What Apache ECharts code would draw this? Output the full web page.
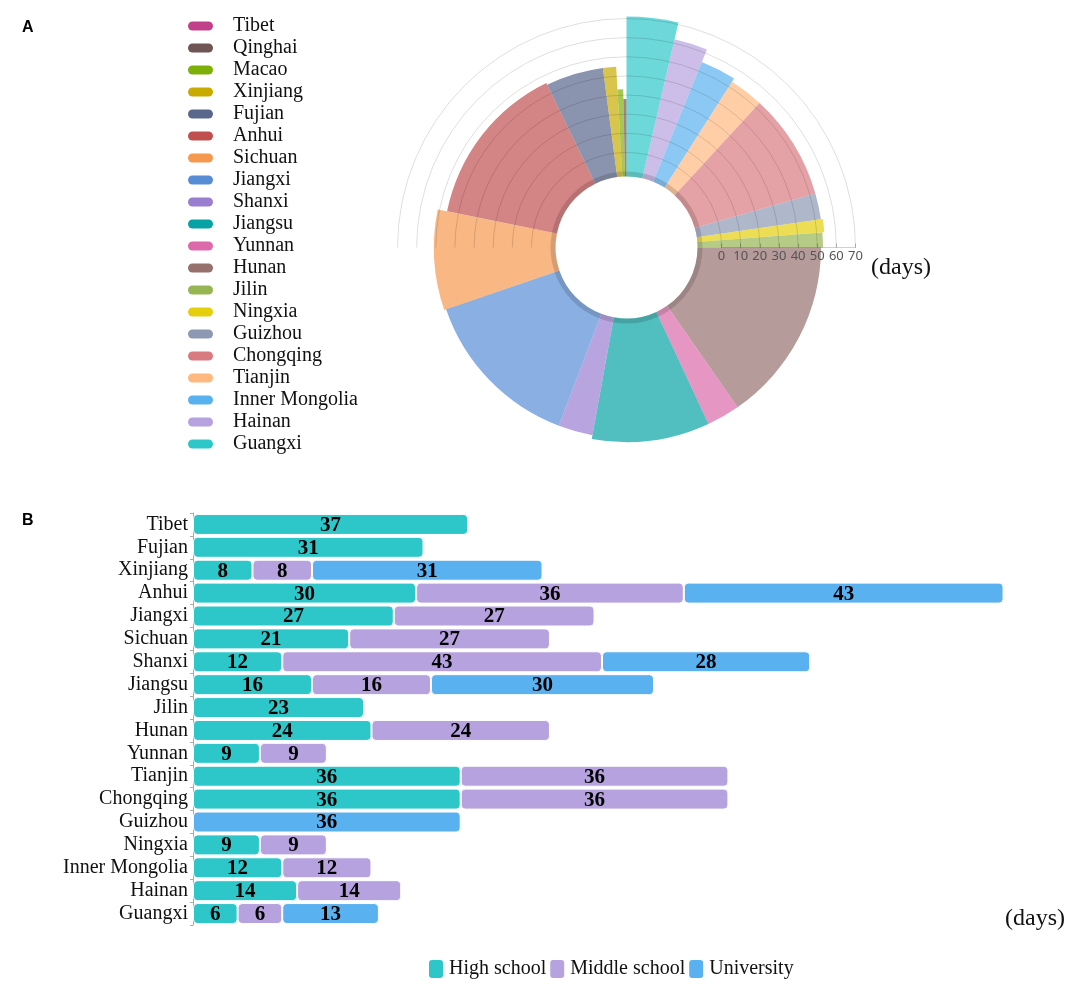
<!DOCTYPE html>
<html>
<head>
<meta charset="utf-8">
<title>School closure days by province</title>
<script src="https://cdn.jsdelivr.net/npm/echarts@6/dist/echarts.min.js"></script>
<style>
  html, body { margin: 0; padding: 0; background: #fff; }
  #main { width: 1084px; height: 996px; }
</style>
</head>
<body>
<div id="main"></div>
<script>
// ---- panel A: rose chart ----
var provinces = ["Guangxi", "Hainan", "Inner Mongolia", "Tianjin", "Chongqing", "Guizhou", "Ningxia", "Jilin",
  "Hunan", "Yunnan", "Jiangsu", "Shanxi", "Jiangxi", "Sichuan", "Anhui", "Fujian", "Xinjiang", "Macao", "Qinghai", "Tibet"];
// share of the circle (%), read from the sector widths
var shareValues = [3.61, 2.53, 2.89, 2.81, 8.72, 2.14, 1.08, 1.22, 15.33, 2.75, 9.78, 2.92, 13.97, 8.42, 14.61, 5.14, 1.17, 0.58, 0.33, 0];
// radial length in days
var roseDays = [71, 62, 55, 53, 53, 53, 54, 53, 52, 52, 52, 50, 50, 51, 46, 45, 45, 33, 28, 0];
var roseColors = ["#2ec7c9", "#b6a2de", "#5ab1ef", "#ffb980", "#d87a80", "#8d98b3", "#e5cf0d", "#97b552",
  "#95706d", "#dc69aa", "#07a2a4", "#9a7fd1", "#588dd5", "#f5994e", "#c05050", "#59678c", "#c9ab00", "#7eb00a", "#6f5553", "#c14089"];

// ---- panel B: stacked bars ----
var regions = ["Tibet", "Fujian", "Xinjiang", "Anhui", "Jiangxi", "Sichuan", "Shanxi", "Jiangsu", "Jilin",
  "Hunan", "Yunnan", "Tianjin", "Chongqing", "Guizhou", "Ningxia", "Inner Mongolia", "Hainan", "Guangxi"];
var highSchool   = [37, 31, 8, 30, 27, 21, 12, 16, 23, 24, 9, 36, 36, null, 9, 12, 14, 6];
var middleSchool = [null, null, 8, 36, 27, 27, 43, 16, null, 24, 9, 36, 36, null, 9, 12, 14, 6];
var university   = [null, null, 31, 43, null, null, 28, 30, null, null, null, null, null, 36, null, null, null, 13];

var serif = "Liberation Serif";

var chart = echarts.init(document.getElementById("main"));

function renderSector(params, api) {
  var cs = params.coordSys;
  var p0 = api.coord([api.value(0), api.value(1)]);
  var p1 = api.coord([api.value(0), api.value(2)]);
  var dx = p0[0] - cs.cx, dy = p0[1] - cs.cy;
  var r = Math.sqrt(dx * dx + dy * dy);
  var a0 = Math.atan2(dy, dx);
  var a1 = Math.atan2(p1[1] - cs.cy, p1[0] - cs.cx);
  if (api.value(2) === api.value(1)) return null;
  if (a1 < a0) a1 += Math.PI * 2;
  var r0 = cs.r0 - 24; // white hole
  return {
    type: "group",
    children: [
      {
        type: "sector",
        shape: { cx: cs.cx, cy: cs.cy, r0: r0, r: r, startAngle: a0, endAngle: a1, clockwise: true },
        style: { fill: api.visual("color"), opacity: 0.7 }
      },
      {
        type: "sector",
        shape: { cx: cs.cx, cy: cs.cy, r0: r0, r: r0 + 5, startAngle: a0, endAngle: a1, clockwise: true },
        style: { fill: "rgba(0,0,0,0.14)" }
      }
    ]
  };
}

var acc = 0;
var roseSeries = provinces.map(function (name, i) {
  var start = acc;
  acc += shareValues[i];
  return {
    name: name,
    type: "custom",
    coordinateSystem: "polar",
    polarIndex: 1,
    itemStyle: { color: roseColors[i] },
    renderItem: renderSector,
    data: [[roseDays[i], start, acc]],
    z: 2
  };
});

function barSeries(name, color, values) {
  return {
    name: name,
    type: "bar",
    stack: "days",
    xAxisIndex: 0,
    yAxisIndex: 0,
    barWidth: 21,
    itemStyle: { color: color, borderColor: "#fff", borderWidth: 1, borderRadius: 4 },
    label: {
      show: true,
      position: "inside",
      offset: [0, 1],
      color: "#000",
      fontFamily: serif,
      fontWeight: "bold",
      fontSize: 21
    },
    data: values
  };
}

chart.setOption({
  animation: false,
  legend: [
    {
      orient: "vertical",
      left: 188,
      top: 16,
      padding: 0,
      itemWidth: 25,
      itemHeight: 9,
      itemGap: 2,
      icon: "path://M4.5 0H20.5A4.5 4.5 0 0 1 20.5 9H4.5A4.5 4.5 0 0 1 4.5 0Z",
      textStyle: { fontFamily: serif, fontSize: 20, color: "#111", padding: [0, 0, 0, 15] },
      data: provinces.slice().reverse()
    },
    {
      orient: "horizontal",
      left: 427,
      top: 958,
      padding: 0,
      itemWidth: 16,
      itemHeight: 20,
      itemGap: 2,
      icon: "roundRect",
      textStyle: { fontFamily: serif, fontSize: 20, color: "#111" },
      data: ["High school", "Middle school", "University"]
    }
  ],
  polar: [
    { center: [626.5, 247.5], radius: [95, 229] },
    { center: [626.5, 247.5], radius: [95, 229] }
  ],
  angleAxis: [
    { polarIndex: 0, type: "value", min: 0, max: 1, startAngle: 0, endAngle: 180, clockwise: false, show: false },
    { polarIndex: 1, type: "value", min: 0, max: 100, startAngle: 90, clockwise: true, show: false }
  ],
  radiusAxis: [
    {
      polarIndex: 0,
      type: "value",
      min: 0,
      max: 70,
      interval: 10,
      z: 10,
      axisLine: { show: true, lineStyle: { color: "rgba(0,0,0,0.18)" } },
      axisTick: { show: true, length: 4, lineStyle: { color: "rgba(0,0,0,0.25)" } },
      axisLabel: { color: "#555", fontSize: 13, fontFamily: "Noto Sans", margin: -15 },
      splitLine: { show: true, lineStyle: { color: "rgba(0,0,0,0.13)", width: 1 } }
    },
    { polarIndex: 1, type: "value", min: 0, max: 70, show: false }
  ],
  grid: { left: 193, top: 513, width: 818, height: 412 },
  xAxis: { type: "value", min: 0, max: 110, show: false },
  yAxis: {
    type: "category",
    inverse: true,
    data: regions,
    axisLine: { show: true, lineStyle: { color: "#aaa" } },
    axisTick: { show: true, length: 3, lineStyle: { color: "#aaa" } },
    axisLabel: { interval: 0, fontFamily: serif, fontSize: 20, color: "#111", margin: 5 }
  },
  graphic: [
    { type: "text", left: 22, top: 20, style: { text: "A", font: "bold 16px 'Liberation Sans'", fill: "#000" } },
    { type: "text", left: 22, top: 513, style: { text: "B", font: "bold 16px 'Liberation Sans'", fill: "#000" } },
    { type: "text", left: 871, top: 256, style: { text: "(days)", font: "24px 'Liberation Serif'", fill: "#111" } },
    { type: "text", left: 1005, top: 907, style: { text: "(days)", font: "24px 'Liberation Serif'", fill: "#111" } }
  ],
  series: roseSeries.concat([
    barSeries("High school", "#2ec7c9", highSchool),
    barSeries("Middle school", "#b6a2de", middleSchool),
    barSeries("University", "#5ab1ef", university)
  ])
});
</script>
</body>
</html>
